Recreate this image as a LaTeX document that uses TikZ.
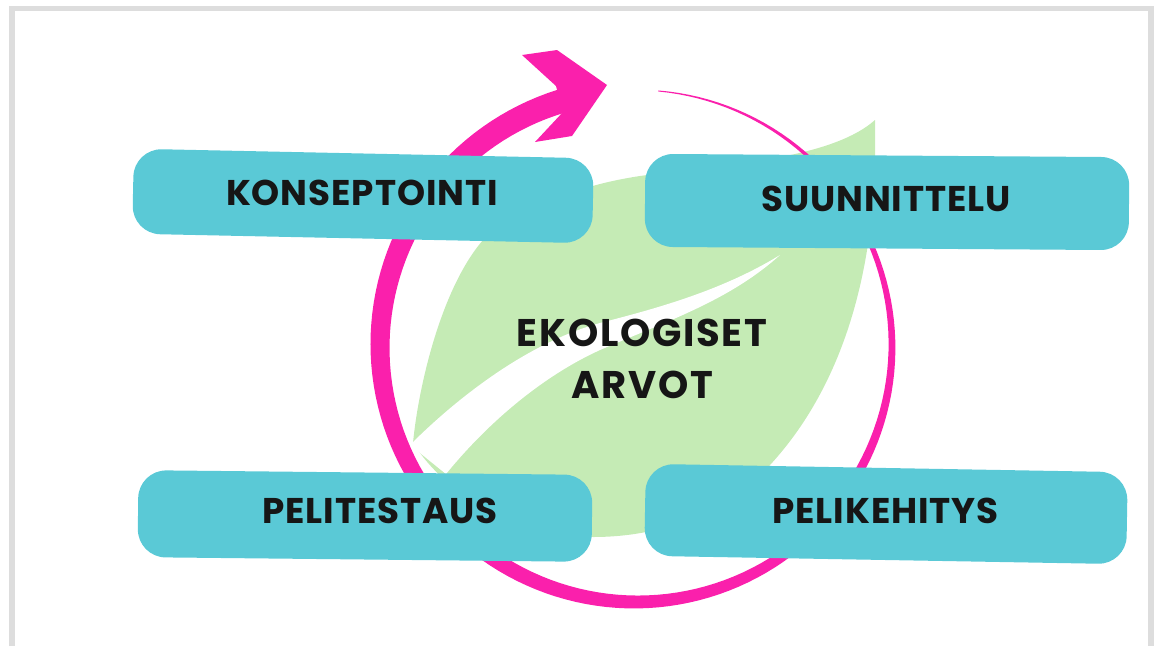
\documentclass[tikz,border=0pt]{standalone}
\usepackage{fontspec}
\setmainfont{Poppins}
\definecolor{ringpink}{RGB}{250,32,172}
\definecolor{leafgreen}{RGB}{197,235,181}
\definecolor{boxteal}{RGB}{90,201,214}
\definecolor{framegrey}{RGB}{221,221,221}
\definecolor{inkblack}{RGB}{22,22,22}
\tikzset{
	brushbox/.style={fill=boxteal, rounded corners=21pt, inner sep=0pt},
	steplabel/.style={text=inkblack, inner sep=0pt,
		font=\fontsize{26.8}{30}\selectfont\bfseries\addfontfeatures{LetterSpace=2.5}}
}
\begin{document}
\begin{tikzpicture}[x=0.75pt, y=-0.75pt]
	\useasboundingbox (0,0) rectangle (1159,646);
	\draw[framegrey, line width=4.1pt] (12,646) -- (12,8.5) -- (1151,8.5) -- (1151,646);
	
	% leaf and its vein
	\fill[leafgreen] (875,120) -- (875,160) .. controls (872,300) and (830,400) .. (770,465)
		.. controls (720,515) and (660,537) .. (593,537) .. controls (520,535) and (450,500) .. (413,443)
		.. controls (418,390) and (440,290) .. (483,240) .. controls (530,205) and (580,185) .. (640,176)
		.. controls (720,165) and (830,160) .. (875,120) -- cycle;
	\fill[white] (780,255) .. controls (720,292) and (650,310) .. (600,323)
		.. controls (530,342) and (460,395) .. (410,445) -- (446,474)
		.. controls (490,420) and (545,375) .. (600,350) .. controls (670,320) and (730,300) .. (780,255) -- cycle;
	
	% cycle ring, thin at the top right and thick near the head
	\fill[ringpink] plot[domain=85:-253, samples=150]
		({636+(256+0.5*(1+23*(85-(\x))/338))*cos(\x)}, {346-(256+0.5*(1+23*(85-(\x))/338))*sin(\x)})
		-- plot[domain=-253:85, samples=150]
		({636+(256-0.5*(1+23*(85-(\x))/338))*cos(\x)}, {346-(256-0.5*(1+23*(85-(\x))/338))*sin(\x)})
		-- cycle;
	\fill[ringpink] (522,55) -- (557,50) -- (607,85) -- (572,136) -- (535,142) -- (563,112) -- (556,86) -- cycle;
	
	% boxes
	\node[brushbox, minimum width=345pt, minimum height=63.75pt, rotate=-1.2] (konsbox) at (363,196) {};
	\node[brushbox, minimum width=363pt, minimum height=69.75pt, rotate=-0.4] (suunbox) at (887,202) {};
	\node[brushbox, minimum width=340.5pt, minimum height=65.25pt, rotate=-0.6] (testbox) at (365,516) {};
	\node[brushbox, minimum width=361.5pt, minimum height=69pt, rotate=-1.0] (kehbox) at (886,514) {};
	
	\node[steplabel] (kons) at (362,192.5) {KONSEPTOINTI};
	\node[steplabel] (suun) at (886,199) {SUUNNITTELU};
	\node[steplabel] (testaus) at (380,510.5) {PELITESTAUS};
	\node[steplabel] (kehitys) at (885.5,510.5) {PELIKEHITYS};
	\node[steplabel, align=center,
		font=\fontsize{28.9}{39}\selectfont\bfseries\addfontfeatures{LetterSpace=4.5}] (arvot) at (642,359) {EKOLOGISET\\ARVOT};
\end{tikzpicture}
\end{document}
